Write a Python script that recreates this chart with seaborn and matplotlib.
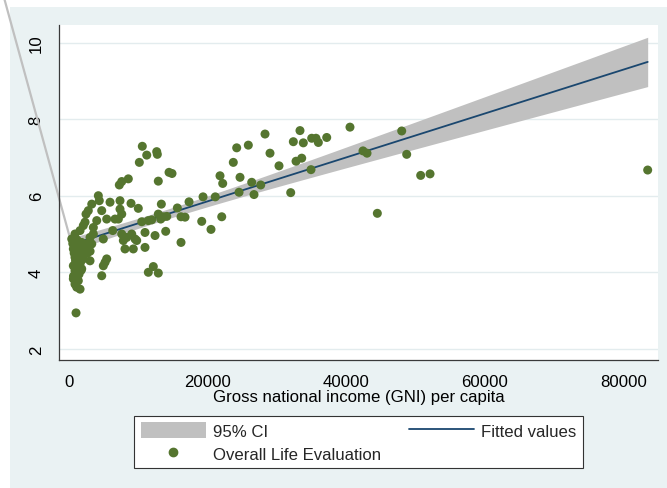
import numpy as np
import pandas as pd
import matplotlib
matplotlib.use("Agg")
import matplotlib.pyplot as plt
import seaborn as sns
from matplotlib.patches import Rectangle, Patch
from matplotlib.lines import Line2D

# ---------------- data ----------------
# (the last 14 entries are dots hidden inside the dense low-income blob)
gni = [8520, 7570, 7220, 4190, 4330, 5880, 7320, 3240, 8910, 9960,
       4680, 2740, 2410, 7320, 7570, 7080, 5400, 3960, 6600, 2270,
       2020, 10460, 11410, 3470, 6270, 10930, 1550, 820, 350, 3470,
       2990, 4910, 7570, 8290, 9010, 7800, 9490, 9730, 8040, 9240,
       10930, 1790, 2510, 3240, 1070, 580, 1300, 1790, 820, 2020,
       2990, 5400, 5160, 4910, 580, 1300, 1790, 820, 4680, 1070,
       580, 1300, 820, 1070, 1550, 970, 11410, 10540, 11180, 12620,
       12710, 10110, 14400, 14830, 12850, 13290, 17290, 19310, 21080, 15600,
       12850, 13200, 13570, 14070, 11900, 16130, 16710, 19120, 22010, 20460,
       13920, 12380, 16130, 12130, 12850, 21760, 22150, 23680, 24170, 25850,
       24650, 26340, 24510, 26670, 27640, 28260, 28980, 30280, 33310, 32350,
       33790, 35000, 35620, 35960, 37170, 40530, 32740, 33560, 34900, 31970,
       42410, 42990, 48000, 48720, 50740, 52090, 44480, 83520,
       700, 1200, 1600, 900, 2200, 1400, 600, 2600, 1900, 1100,
       500, 1700, 3000, 800]
life = [6.44, 6.37, 6.28, 6.00, 5.87, 5.83, 5.87, 5.78, 5.80, 5.67,
        5.61, 5.61, 5.52, 5.65, 5.52, 5.39, 5.39, 5.35, 5.39, 5.31,
        5.22, 5.32, 5.35, 5.17, 5.09, 5.04, 5.09, 5.00, 4.87, 5.00,
        4.91, 4.87, 5.00, 4.91, 5.00, 4.83, 4.87, 4.83, 4.61, 4.61,
        4.65, 4.78, 4.74, 4.74, 4.74, 4.61, 4.61, 4.48, 4.39, 4.35,
        4.30, 4.35, 4.26, 4.17, 4.17, 4.17, 4.09, 4.04, 3.91, 3.91,
        3.83, 3.78, 3.69, 3.61, 3.56, 2.94, 4.00, 7.29, 7.06, 7.15,
        7.08, 6.87, 6.61, 6.58, 6.38, 5.78, 5.84, 5.97, 5.97, 5.68,
        5.52, 5.39, 5.45, 5.46, 5.37, 5.45, 5.44, 5.33, 5.45, 5.12,
        5.07, 4.96, 4.78, 4.15, 3.98, 6.52, 6.32, 6.87, 7.25, 7.32,
        6.48, 6.35, 6.09, 6.03, 6.28, 7.61, 7.11, 6.78, 7.70, 7.41,
        7.38, 7.50, 7.50, 7.39, 7.52, 7.79, 6.90, 6.98, 6.68, 6.08,
        7.17, 7.11, 7.69, 7.08, 6.53, 6.57, 5.54, 6.67,
        4.50, 4.45, 4.25, 4.30, 4.60, 3.95, 3.90, 4.50, 4.70, 4.85,
        4.75, 4.05, 4.55, 4.60]
x_ticks = [0, 20000, 40000, 60000, 80000]
y_ticks = [2, 4, 6, 8, 10]
x_label = "Gross national income (GNI) per capita"
legend_labels = ["95% CI", "Overall Life Evaluation", "Fitted values"]
# stray grey stroke of the CI outline (starts outside the plot, top-left)
stray_start = (-9400, 11.15)

# ---------------- style ----------------
sns.set_theme(style="white")
plt.rcParams["font.family"] = ["Liberation Sans", "DejaVu Sans"]

BG = "#EAF2F3"
GREEN = "#55752F"
NAVY = "#1A476F"
CI_GREY = "#C0C0C0"
FS = 12.1

df = pd.DataFrame({"gni": gni, "life": life})

# linear fit with analytic 95% CI of the mean
x = df["gni"].to_numpy(float)
y = df["life"].to_numpy(float)
n = len(x)
b1, b0 = np.polyfit(x, y, 1)
xs = np.linspace(x.min(), x.max(), 200)
fit = b0 + b1 * xs
res = y - (b0 + b1 * x)
s = np.sqrt(res @ res / (n - 2))
sxx = ((x - x.mean()) ** 2).sum()
se = s * np.sqrt(1.0 / n + (xs - x.mean()) ** 2 / sxx)
tval = 1.977
fit_df = pd.DataFrame({"gni": xs, "fit": fit})

W, H = 667, 489
fig = plt.figure(figsize=(W / 100, H / 100), dpi=100)
fig.patch.set_facecolor("white")
fig.patches.append(Rectangle((10 / W, 0), 1 - 10 / W, 1 - 8 / H,
                             transform=fig.transFigure, facecolor=BG,
                             edgecolor="none", zorder=-10))

left, right, top, bottom = 59, 658, 26, 360.7
ax = fig.add_axes([left / W, 1 - bottom / H, (right - left) / W, (bottom - top) / H])
ax.set_zorder(1)
ax.set_facecolor("white")

ax.fill_between(xs, fit - tval * se, fit + tval * se, color=CI_GREY, lw=0, zorder=2)
sns.lineplot(data=fit_df, x="gni", y="fit", color=NAVY, lw=1.3, ax=ax, zorder=3)
sns.scatterplot(data=df, x="gni", y="life", color=GREEN, s=42, edgecolor="none",
                linewidth=0, ax=ax, zorder=4)
ax.plot([stray_start[0], xs[0]], [stray_start[1], fit[0]], color=CI_GREY, lw=1.6,
        clip_on=False, zorder=1)

ax.set_xlim(-1490, 85010)
ax.set_ylim(1.718, 10.457)
ax.set_xticks(x_ticks)
ax.set_xticklabels([str(v) for v in x_ticks])
ax.set_yticks(y_ticks)
ax.set_yticklabels([str(v) for v in y_ticks])
for lab in ax.get_yticklabels():
    lab.set_rotation(90)
    lab.set_va("center")
    lab.set_ha("right")

for sp in ["top", "right"]:
    ax.spines[sp].set_visible(False)
for sp in ["left", "bottom"]:
    ax.spines[sp].set_color("#3a3a3a")
    ax.spines[sp].set_linewidth(0.9)

ax.tick_params(axis="both", direction="out", length=5, width=0.9, color="#3a3a3a",
               labelsize=FS, labelcolor="black", pad=6)
ax.tick_params(axis="x", pad=5)
ax.yaxis.grid(True, color="#E3ECEE", lw=1.0)
ax.xaxis.grid(False)
ax.set_axisbelow(True)
ax.set_xlabel(x_label, fontsize=FS, color="black", labelpad=0.5)
ax.set_ylabel("")

handles = [Patch(facecolor=CI_GREY, edgecolor="none"),
           Line2D([], [], marker="o", ls="none", color=GREEN, markersize=6),
           Line2D([], [], color=NAVY, lw=1.3)]
leg = fig.legend(handles, legend_labels, ncol=2, loc="center",
                 bbox_to_anchor=(358.7 / W, 1 - 443 / H),
                 frameon=True, fancybox=False, edgecolor="#333333",
                 facecolor="white", framealpha=1, fontsize=12.1,
                 handlelength=3.85, handleheight=1.05, handletextpad=0.45,
                 columnspacing=1.65, labelspacing=0.36, borderpad=0.4,
                 borderaxespad=0)
leg.get_frame().set_linewidth(0.8)

fig.savefig("out.png", dpi=100)
